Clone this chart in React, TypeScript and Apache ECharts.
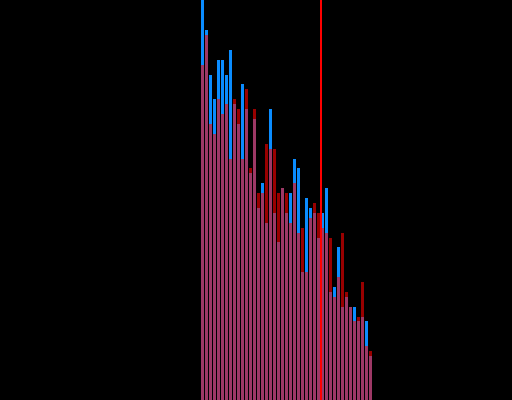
import React, { useEffect, useRef } from "react";
import * as echarts from "echarts";

// Bin index for each pair of overlaid histogram bars
const bins: number[] = Array.from({ length: 43 }, (_, i) => i);

// Blue distribution (counts per bin)
const blueCounts: number[] = [
  80, 74, 65, 60.2, 68, 68, 65, 70, 59.2, 55.2,
  63.2, 58.2, 45.4, 56.2, 38.4, 43.4, 35.4, 58.2, 37.4, 31.6,
  42.4, 37.4, 41.4, 48.2, 46.4, 25.6, 40.4, 38.4, 37.4, 32.4,
  37.4, 42.4, 21.6, 22.6, 30.6, 18.6, 20.6, 18.6, 18.6, 15.8,
  16.6, 15.8, 8.8,
];

// Red distribution (counts per bin), drawn translucent over the blue one
const redCounts: number[] = [
  67, 73, 55.2, 53.2, 60.2, 57.2, 59.2, 48.2, 60.2, 58.2,
  48.2, 62.2, 46.4, 58.2, 41.4, 41.4, 51.2, 50.2, 50.2, 41.4,
  42.4, 41.4, 35.4, 43.4, 33.4, 34.4, 25.6, 36.4, 39.4, 37.4,
  34.4, 33.4, 32.4, 20.6, 24.6, 33.4, 21.6, 18.6, 15.8, 16.6,
  23.6, 10.8, 9.8,
];

// Position of the vertical reference line, in bin units
const markerX = 29.625;

export default function App() {
  const ref = useRef<HTMLDivElement>(null);

  useEffect(() => {
    if (!ref.current) return;
    const chart = echarts.init(ref.current, null, { renderer: "svg" });
    chart.setOption({
      animation: false,
      backgroundColor: "#000000",
      grid: { left: 0, right: 0, top: 0, bottom: 0 },
      xAxis: {
        type: "value",
        min: -50.625,
        max: 77.375,
        show: false,
        splitLine: { show: false },
      },
      yAxis: {
        type: "value",
        min: 0,
        max: 80,
        show: false,
        splitLine: { show: false },
      },
      series: [
        {
          type: "bar",
          name: "blue",
          data: bins.map((b, i) => [b, blueCounts[i]]),
          barWidth: 3,
          barGap: "-100%",
          itemStyle: { color: "#0a8cff" },
          z: 1,
        },
        {
          type: "bar",
          name: "red",
          data: bins.map((b, i) => [b, redCounts[i]]),
          barWidth: 3,
          barGap: "-100%",
          itemStyle: { color: "rgba(255,0,0,0.6)" },
          z: 2,
          markLine: {
            silent: true,
            symbol: "none",
            label: { show: false },
            lineStyle: { color: "#ff0000", width: 2, type: "solid" },
            data: [{ xAxis: markerX }],
            z: 5,
          },
        },
      ],
    });
    return () => chart.dispose();
  }, []);

  return (
    <div
      ref={ref}
      style={{ position: "fixed", left: 0, top: 0, width: 512, height: 400, background: "#000" }}
    />
  );
}
